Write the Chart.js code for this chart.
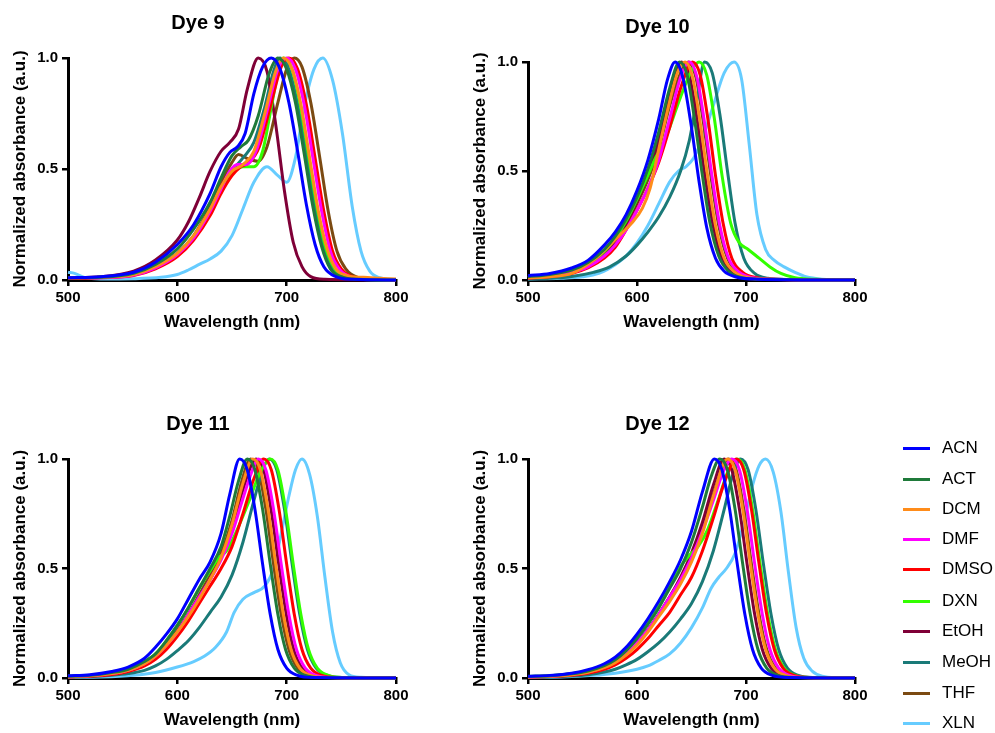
<!DOCTYPE html>
<html><head><meta charset="utf-8">
<script src="https://cdn.jsdelivr.net/npm/chart.js@4.4.1/dist/chart.umd.min.js"></script>
<style>
html,body{margin:0;padding:0;background:#fff;width:995px;height:733px;overflow:hidden;position:relative;}
.panel{position:absolute;}
.lline{position:absolute;width:27px;height:3px;}
.ltext{position:absolute;font:17px "Liberation Sans",Arial,sans-serif;color:#000;line-height:20px;}
</style></head><body>
<canvas id="c9" class="panel" width="464" height="340" style="left:0;top:0"></canvas>
<canvas id="c10" class="panel" width="463" height="340" style="left:460px;top:0"></canvas>
<canvas id="c11" class="panel" width="464" height="340" style="left:0;top:398px"></canvas>
<canvas id="c12" class="panel" width="463" height="340" style="left:460px;top:398px"></canvas>
<div id="legend"></div>
<script>
// ---------- categories / labels ----------
const solvents = ['ACN','ACT','DCM','DMF','DMSO','DXN','EtOH','MeOH','THF','XLN'];
const colors = ['#0000FF','#1F7A3A','#FF8C1A','#FF00FF','#FF0000','#33FF00','#7F0037','#1A7A78','#7B4A12','#66CCFF'];
const dyeTitles = ['Dye 9','Dye 10','Dye 11','Dye 12'];
const xTicks = [500,600,700,800];
const yTicks = [0,0.5,1.0];

// ---------- Dye 9 ----------
const dye9_ACN = [[500,0.01],[530,0.015],[560,0.035],[580,0.08],[600,0.16],[615,0.25],[630,0.39],[640,0.51],[648,0.575],[655,0.6],[662,0.66],[670,0.84],[678,0.96],[686,1.0],[694,0.95],[702,0.8],[710,0.58],[718,0.34],[726,0.16],[734,0.06],[745,0.015],[760,0.003],[800,0]];
const dye9_ACT = [[500,0.01],[530,0.012],[560,0.03],[580,0.07],[600,0.14],[615,0.23],[630,0.35],[640,0.46],[650,0.56],[658,0.6],[665,0.63],[674,0.74],[684,0.93],[692,1.0],[700,0.95],[708,0.8],[716,0.57],[724,0.33],[732,0.15],[740,0.05],[750,0.015],[765,0.003],[800,0]];
const dye9_DCM = [[500,0.01],[530,0.012],[560,0.025],[580,0.06],[600,0.12],[615,0.2],[630,0.32],[640,0.42],[650,0.49],[660,0.52],[670,0.58],[680,0.75],[690,0.94],[697,1.0],[705,0.95],[713,0.79],[721,0.55],[729,0.31],[737,0.14],[745,0.05],[755,0.02],[770,0.012],[785,0.008],[800,0.004]];
const dye9_DMF = [[500,0.01],[530,0.01],[560,0.022],[580,0.055],[600,0.115],[615,0.19],[630,0.31],[640,0.41],[648,0.49],[655,0.52],[663,0.52],[672,0.58],[682,0.76],[692,0.95],[700,1.0],[708,0.95],[716,0.79],[724,0.55],[732,0.31],[740,0.13],[748,0.05],[760,0.012],[780,0.003],[800,0]];
const dye9_DMSO = [[500,0.008],[530,0.01],[560,0.02],[580,0.05],[600,0.105],[615,0.18],[630,0.29],[640,0.39],[650,0.47],[658,0.51],[666,0.53],[675,0.6],[685,0.78],[695,0.96],[702,1.0],[710,0.95],[718,0.79],[726,0.55],[734,0.31],[742,0.13],[750,0.05],[762,0.012],[780,0.003],[800,0]];
const dye9_DXN = [[500,0.01],[530,0.012],[560,0.025],[580,0.055],[600,0.115],[615,0.19],[630,0.3],[640,0.4],[650,0.48],[660,0.51],[670,0.51],[678,0.58],[686,0.78],[692,0.93],[697,1.0],[704,0.96],[712,0.8],[720,0.56],[728,0.32],[736,0.14],[744,0.05],[755,0.012],[775,0.002],[800,0]];
const dye9_EtOH = [[500,0.01],[530,0.015],[560,0.04],[580,0.09],[600,0.18],[610,0.26],[620,0.37],[630,0.49],[640,0.58],[648,0.62],[656,0.68],[664,0.86],[674,1.0],[682,0.94],[690,0.7],[698,0.4],[706,0.17],[714,0.06],[722,0.015],[735,0.003],[800,0]];
const dye9_MeOH = [[500,0.01],[530,0.012],[560,0.025],[580,0.055],[600,0.11],[615,0.19],[630,0.3],[640,0.4],[650,0.49],[660,0.55],[670,0.62],[680,0.78],[688,0.94],[694,1.0],[702,0.95],[710,0.79],[718,0.56],[726,0.32],[734,0.14],[742,0.05],[752,0.012],[770,0.002],[800,0]];
const dye9_THF = [[500,0.01],[530,0.012],[560,0.025],[580,0.06],[600,0.12],[615,0.2],[630,0.33],[640,0.44],[650,0.53],[656,0.565],[665,0.545],[674,0.535],[682,0.6],[692,0.8],[700,0.95],[707,1.0],[714,0.96],[722,0.8],[730,0.56],[738,0.31],[746,0.13],[754,0.05],[765,0.012],[785,0.002],[800,0]];
const dye9_XLN = [[500,0.035],[506,0.03],[515,0.012],[530,0.005],[560,0.006],[585,0.012],[600,0.025],[610,0.045],[620,0.07],[630,0.095],[640,0.13],[650,0.2],[660,0.32],[670,0.44],[682,0.51],[692,0.47],[700,0.44],[708,0.55],[716,0.78],[725,0.95],[733,1.0],[742,0.9],[751,0.66],[760,0.33],[768,0.13],[776,0.04],[785,0.01],[800,0.002]];

// ---------- Dye 10 ----------
const dye10_ACN = [[500,0.02],[520,0.03],[540,0.055],[555,0.09],[570,0.16],[580,0.22],[590,0.3],[600,0.41],[610,0.55],[620,0.74],[628,0.92],[635,1.0],[642,0.93],[650,0.7],[657,0.45],[664,0.24],[672,0.1],[680,0.04],[690,0.015],[710,0.004],[800,0]];
const dye10_ACT = [[500,0.015],[520,0.025],[540,0.045],[555,0.08],[570,0.14],[580,0.2],[590,0.28],[600,0.38],[610,0.51],[620,0.68],[630,0.88],[639,1.0],[646,0.94],[653,0.73],[660,0.48],[667,0.26],[675,0.11],[684,0.04],[695,0.012],[715,0.003],[800,0]];
const dye10_DCM = [[500,0.01],[520,0.015],[540,0.03],[560,0.09],[575,0.16],[585,0.21],[595,0.26],[605,0.33],[612,0.42],[620,0.6],[630,0.82],[637,0.95],[644,1.0],[651,0.93],[658,0.72],[665,0.47],[672,0.25],[680,0.1],[690,0.035],[702,0.01],[720,0.003],[800,0]];
const dye10_DMF = [[500,0.01],[520,0.018],[540,0.035],[555,0.06],[570,0.11],[580,0.16],[590,0.23],[600,0.32],[610,0.42],[620,0.55],[630,0.74],[640,0.93],[648,1.0],[655,0.93],[662,0.72],[669,0.47],[676,0.25],[684,0.1],[694,0.035],[706,0.01],[725,0.003],[800,0]];
const dye10_DMSO = [[500,0.008],[520,0.015],[540,0.03],[555,0.055],[570,0.1],[580,0.15],[590,0.23],[600,0.32],[610,0.42],[620,0.54],[630,0.7],[640,0.88],[651,1.0],[658,0.94],[665,0.74],[672,0.48],[679,0.26],[687,0.1],[697,0.035],[710,0.01],[730,0.002],[800,0]];
const dye10_DXN = [[500,0.012],[520,0.02],[540,0.04],[555,0.07],[570,0.13],[580,0.19],[590,0.27],[600,0.37],[610,0.48],[618,0.57],[622,0.6],[630,0.7],[640,0.84],[650,0.96],[657,1.0],[664,0.94],[671,0.74],[678,0.48],[686,0.26],[694,0.17],[702,0.14],[712,0.1],[722,0.06],[732,0.03],[745,0.01],[765,0.003],[800,0]];
const dye10_EtOH = [[500,0.012],[520,0.02],[540,0.04],[555,0.07],[570,0.125],[580,0.18],[590,0.26],[600,0.36],[610,0.48],[620,0.64],[630,0.84],[641,1.0],[648,0.94],[655,0.74],[662,0.49],[669,0.27],[677,0.11],[686,0.04],[697,0.012],[715,0.003],[800,0]];
const dye10_MeOH = [[500,0.005],[520,0.008],[540,0.016],[560,0.035],[575,0.06],[590,0.11],[600,0.16],[610,0.22],[620,0.29],[630,0.38],[640,0.5],[648,0.64],[655,0.83],[662,1.0],[669,0.95],[676,0.76],[683,0.5],[690,0.26],[698,0.1],[708,0.03],[720,0.008],[740,0.002],[800,0]];
const dye10_THF = [[500,0.01],[520,0.018],[540,0.035],[555,0.065],[570,0.12],[580,0.17],[590,0.25],[600,0.35],[610,0.46],[620,0.6],[630,0.8],[640,0.95],[647,1.0],[654,0.93],[661,0.72],[668,0.47],[675,0.25],[683,0.1],[693,0.035],[705,0.01],[725,0.003],[800,0]];
const dye10_XLN = [[500,0.005],[530,0.008],[550,0.015],[565,0.03],[580,0.07],[590,0.11],[600,0.17],[610,0.25],[620,0.35],[630,0.45],[638,0.5],[645,0.52],[652,0.56],[660,0.65],[670,0.8],[680,0.95],[689,1.0],[696,0.92],[703,0.62],[710,0.3],[718,0.14],[726,0.09],[735,0.06],[745,0.035],[755,0.015],[770,0.004],[800,0]];

// ---------- Dye 11 ----------
const dye11_ACN = [[500,0.01],[520,0.015],[540,0.03],[555,0.05],[570,0.09],[580,0.14],[590,0.2],[600,0.27],[610,0.36],[620,0.45],[630,0.53],[640,0.66],[648,0.84],[657,1.0],[664,0.95],[671,0.77],[678,0.52],[685,0.29],[692,0.13],[700,0.045],[710,0.012],[725,0.002],[800,0]];
const dye11_ACT = [[500,0.008],[520,0.012],[540,0.025],[555,0.04],[570,0.075],[580,0.11],[590,0.17],[600,0.24],[610,0.32],[620,0.41],[630,0.5],[640,0.6],[648,0.74],[656,0.9],[664,1.0],[671,0.95],[678,0.77],[685,0.52],[692,0.29],[699,0.13],[707,0.045],[717,0.012],[732,0.002],[800,0]];
const dye11_DCM = [[500,0.006],[520,0.01],[540,0.02],[555,0.035],[570,0.065],[580,0.1],[590,0.15],[600,0.21],[610,0.28],[620,0.36],[630,0.45],[640,0.55],[650,0.7],[660,0.89],[669,1.0],[676,0.95],[683,0.77],[690,0.52],[697,0.29],[704,0.13],[712,0.045],[722,0.012],[737,0.002],[800,0]];
const dye11_DMF = [[500,0.006],[520,0.01],[540,0.02],[555,0.035],[570,0.065],[580,0.1],[590,0.15],[600,0.21],[610,0.29],[620,0.37],[630,0.45],[640,0.54],[650,0.66],[660,0.82],[668,0.94],[674,1.0],[681,0.95],[688,0.77],[695,0.52],[702,0.29],[709,0.13],[717,0.045],[727,0.012],[742,0.002],[800,0]];
const dye11_DMSO = [[500,0.005],[520,0.008],[540,0.016],[555,0.03],[570,0.055],[580,0.085],[590,0.13],[600,0.19],[610,0.26],[620,0.34],[630,0.42],[640,0.5],[650,0.6],[660,0.75],[670,0.91],[679,1.0],[686,0.95],[693,0.77],[700,0.52],[707,0.29],[714,0.13],[722,0.045],[732,0.012],[747,0.002],[800,0]];
const dye11_DXN = [[500,0.008],[520,0.012],[540,0.025],[555,0.04],[570,0.075],[580,0.11],[590,0.17],[600,0.24],[610,0.32],[620,0.41],[630,0.49],[638,0.55],[645,0.58],[655,0.68],[665,0.8],[675,0.93],[685,1.0],[692,0.95],[699,0.77],[706,0.52],[713,0.29],[720,0.13],[728,0.045],[738,0.012],[752,0.002],[800,0]];
const dye11_EtOH = [[500,0.006],[520,0.01],[540,0.02],[555,0.035],[570,0.065],[580,0.1],[590,0.15],[600,0.21],[610,0.29],[620,0.37],[630,0.45],[640,0.55],[650,0.68],[660,0.86],[672,1.0],[679,0.95],[686,0.76],[693,0.51],[700,0.28],[707,0.12],[715,0.04],[725,0.01],[740,0.002],[800,0]];
const dye11_MeOH = [[500,0.004],[520,0.006],[540,0.012],[555,0.02],[570,0.035],[580,0.055],[590,0.085],[600,0.125],[610,0.17],[620,0.23],[630,0.3],[640,0.37],[650,0.47],[660,0.62],[670,0.81],[678,0.95],[684,1.0],[691,0.95],[698,0.77],[705,0.52],[712,0.29],[719,0.13],[727,0.045],[737,0.012],[752,0.002],[800,0]];
const dye11_THF = [[500,0.006],[520,0.01],[540,0.02],[555,0.035],[570,0.065],[580,0.1],[590,0.15],[600,0.22],[610,0.29],[620,0.38],[630,0.47],[640,0.57],[650,0.72],[659,0.9],[667,1.0],[674,0.95],[681,0.77],[688,0.52],[695,0.29],[702,0.13],[710,0.045],[720,0.012],[735,0.002],[800,0]];
const dye11_XLN = [[500,0.002],[530,0.004],[560,0.012],[580,0.025],[600,0.05],[615,0.075],[625,0.1],[635,0.14],[645,0.21],[652,0.3],[660,0.36],[670,0.39],[680,0.42],[688,0.5],[695,0.66],[702,0.83],[708,0.95],[714,1.0],[721,0.93],[728,0.74],[735,0.46],[742,0.21],[749,0.07],[757,0.015],[768,0.003],[800,0]];

// ---------- Dye 12 ----------
const dye12_ACN = [[500,0.008],[520,0.012],[540,0.022],[555,0.038],[570,0.065],[580,0.095],[590,0.14],[600,0.2],[610,0.27],[620,0.35],[630,0.44],[640,0.54],[650,0.67],[660,0.85],[671,1.0],[678,0.95],[685,0.77],[692,0.52],[699,0.29],[706,0.13],[714,0.045],[724,0.012],[740,0.002],[800,0]];
const dye12_ACT = [[500,0.007],[520,0.01],[540,0.019],[555,0.032],[570,0.056],[580,0.083],[590,0.125],[600,0.18],[610,0.245],[620,0.32],[630,0.41],[640,0.5],[650,0.62],[660,0.78],[668,0.92],[676,1.0],[683,0.95],[690,0.77],[697,0.52],[704,0.29],[711,0.13],[719,0.045],[729,0.012],[745,0.002],[800,0]];
const dye12_DCM = [[500,0.005],[520,0.008],[540,0.015],[555,0.026],[570,0.047],[580,0.07],[590,0.105],[600,0.15],[610,0.21],[620,0.28],[630,0.35],[640,0.43],[650,0.53],[660,0.66],[670,0.83],[683,1.0],[690,0.95],[697,0.77],[704,0.52],[711,0.29],[718,0.13],[726,0.045],[736,0.012],[750,0.002],[800,0]];
const dye12_DMF = [[500,0.005],[520,0.008],[540,0.016],[555,0.027],[570,0.05],[580,0.075],[590,0.11],[600,0.16],[610,0.22],[620,0.29],[630,0.37],[640,0.45],[650,0.55],[660,0.67],[670,0.81],[679,0.94],[687,1.0],[694,0.95],[701,0.77],[708,0.52],[715,0.29],[722,0.13],[730,0.045],[740,0.012],[755,0.002],[800,0]];
const dye12_DMSO = [[500,0.004],[520,0.007],[540,0.013],[555,0.022],[570,0.04],[580,0.06],[590,0.09],[600,0.13],[610,0.18],[620,0.24],[630,0.3],[640,0.38],[650,0.46],[660,0.58],[670,0.73],[680,0.89],[691,1.0],[698,0.95],[705,0.77],[712,0.52],[719,0.29],[726,0.13],[734,0.045],[744,0.012],[760,0.002],[800,0]];
const dye12_DXN = [[500,0.007],[520,0.01],[540,0.02],[555,0.033],[570,0.058],[580,0.086],[590,0.13],[600,0.185],[610,0.25],[620,0.33],[630,0.42],[640,0.51],[648,0.56],[656,0.6],[665,0.68],[675,0.82],[684,0.95],[692,1.0],[699,0.95],[706,0.77],[713,0.52],[720,0.29],[727,0.13],[735,0.045],[745,0.012],[760,0.002],[800,0]];
const dye12_EtOH = [[500,0.006],[520,0.009],[540,0.017],[555,0.028],[570,0.05],[580,0.075],[590,0.11],[600,0.16],[610,0.22],[620,0.29],[630,0.37],[640,0.46],[650,0.57],[660,0.71],[670,0.88],[680,1.0],[687,0.95],[694,0.77],[701,0.52],[708,0.29],[715,0.13],[723,0.045],[733,0.012],[748,0.002],[800,0]];
const dye12_MeOH = [[500,0.003],[520,0.005],[540,0.009],[555,0.015],[570,0.027],[580,0.04],[590,0.06],[600,0.085],[610,0.12],[620,0.16],[630,0.21],[640,0.27],[650,0.34],[660,0.44],[670,0.58],[680,0.77],[688,0.93],[695,1.0],[702,0.95],[709,0.77],[716,0.52],[723,0.29],[730,0.13],[738,0.045],[748,0.012],[763,0.002],[800,0]];
const dye12_THF = [[500,0.005],[520,0.008],[540,0.016],[555,0.027],[570,0.05],[580,0.075],[590,0.11],[600,0.16],[610,0.22],[620,0.29],[630,0.37],[640,0.45],[650,0.55],[660,0.68],[670,0.84],[684,1.0],[691,0.95],[698,0.77],[705,0.52],[712,0.29],[719,0.13],[727,0.045],[737,0.012],[752,0.002],[800,0]];
const dye12_XLN = [[500,0.002],[530,0.004],[560,0.012],[580,0.022],[600,0.04],[610,0.055],[620,0.08],[630,0.11],[640,0.16],[650,0.23],[660,0.32],[668,0.41],[675,0.46],[682,0.5],[690,0.57],[698,0.71],[706,0.88],[712,0.97],[718,1.0],[725,0.94],[732,0.76],[739,0.48],[746,0.23],[753,0.09],[761,0.03],[770,0.008],[785,0.001],[800,0]];

const dye9 = [dye9_ACN,dye9_ACT,dye9_DCM,dye9_DMF,dye9_DMSO,dye9_DXN,dye9_EtOH,dye9_MeOH,dye9_THF,dye9_XLN];
const dye10 = [dye10_ACN,dye10_ACT,dye10_DCM,dye10_DMF,dye10_DMSO,dye10_DXN,dye10_EtOH,dye10_MeOH,dye10_THF,dye10_XLN];
const dye11 = [dye11_ACN,dye11_ACT,dye11_DCM,dye11_DMF,dye11_DMSO,dye11_DXN,dye11_EtOH,dye11_MeOH,dye11_THF,dye11_XLN];
const dye12 = [dye12_ACN,dye12_ACT,dye12_DCM,dye12_DMF,dye12_DMSO,dye12_DXN,dye12_EtOH,dye12_MeOH,dye12_THF,dye12_XLN];

// ---------- drawing ----------
const FONT = '"Liberation Sans", Arial, Helvetica, sans-serif';
Chart.defaults.font.family = FONT;
Chart.defaults.color = '#000';

function makeChart(id, title, series, padTop) {
  const datasets = series.map((pts, i) => ({
    label: solvents[i],
    data: pts.map(p => ({x: p[0], y: p[1]})),
    borderColor: colors[i],
    backgroundColor: colors[i],
    borderWidth: 3,
    pointRadius: 0,
    cubicInterpolationMode: 'monotone',
    fill: false,
    clip: false
  }));
  return new Chart(document.getElementById(id), {
    type: 'line',
    data: { datasets },
    options: {
      responsive: false,
      animation: false,
      layout: { padding: { top: padTop, left: 0, right: 68, bottom: 0 } },
      plugins: {
        legend: { display: false },
        tooltip: { enabled: false },
        title: {
          display: true, text: title, color: '#000',
          font: { size: 20, weight: 'bold', family: FONT, lineHeight: 1.2 },
          padding: { top: 11, bottom: 23 }
        }
      },
      scales: {
        x: {
          type: 'linear', min: xTicks[0], max: xTicks[xTicks.length - 1],
          afterFit: s => { s.height = 60; },
          afterBuildTicks: s => { s.ticks = xTicks.map(v => ({value: v})); },
          ticks: { autoSkip: false, maxRotation: 0, padding: 3, color: '#000',
                   font: { size: 15, weight: 'bold', family: FONT } },
          grid: { drawOnChartArea: false, drawTicks: true, tickLength: 6, color: '#000', lineWidth: 2.5, tickWidth: 2.5 },
          border: { display: true, color: '#000', width: 3 },
          title: { display: true, text: 'Wavelength (nm)', color: '#000',
                   font: { size: 17, weight: 'bold', family: FONT, lineHeight: 1.2 },
                   padding: { top: 0, bottom: 7 } }
        },
        y: {
          type: 'linear', min: yTicks[0], max: yTicks[yTicks.length - 1],
          afterFit: s => { s.width = 68; },
          afterBuildTicks: s => { s.ticks = yTicks.map(v => ({value: v})); },
          ticks: { padding: 4, color: '#000', callback: v => Number(v).toFixed(1),
                   font: { size: 15, weight: 'bold', family: FONT } },
          grid: { drawOnChartArea: false, drawTicks: true, tickLength: 6, color: '#000', lineWidth: 2.5, tickWidth: 2.5 },
          border: { display: true, color: '#000', width: 3 },
          title: { display: true, text: 'Normalized absorbance (a.u.)', color: '#000',
                   font: { size: 17, weight: 'bold', family: FONT, lineHeight: 1.2 },
                   padding: { top: 10, bottom: 0 } }
        }
      }
    }
  });
}

makeChart('c9', dyeTitles[0], dye9, 0);
makeChart('c10', dyeTitles[1], dye10, 4);
makeChart('c11', dyeTitles[2], dye11, 3);
makeChart('c12', dyeTitles[3], dye12, 3);

// legend (HTML, built from the same names/colours)
const legendY = [448,479,509,539,569,601,631,662,693,723];
const leg = document.getElementById('legend');
solvents.forEach((name, i) => {
  const l = document.createElement('div');
  l.className = 'lline';
  l.style.left = '903px'; l.style.top = (legendY[i] - 1.5) + 'px';
  l.style.background = colors[i];
  leg.appendChild(l);
  const t = document.createElement('div');
  t.className = 'ltext';
  t.style.left = '942px'; t.style.top = (legendY[i] - 10) + 'px';
  t.textContent = name;
  leg.appendChild(t);
});
</script>
</body></html>
